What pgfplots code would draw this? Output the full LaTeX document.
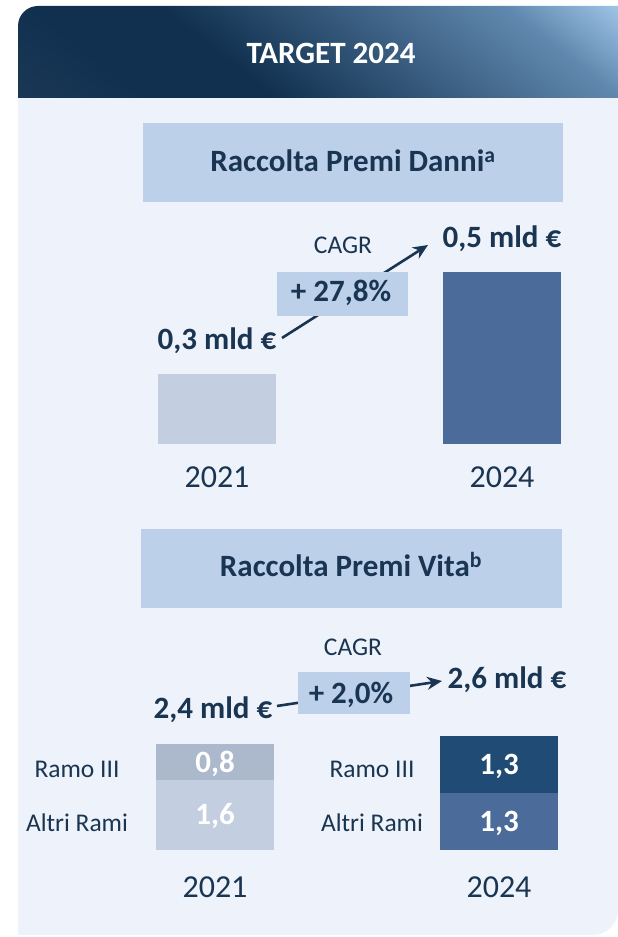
\documentclass[border=0pt]{standalone}
\usepackage{fontspec}
\setmainfont{Carlito}
\usepackage{pgfplots}
\pgfplotsset{compat=1.18}
\usetikzlibrary{arrows.meta}

\definecolor{navy}{HTML}{1A3552}
\definecolor{panelbg}{HTML}{EEF2FA}
\definecolor{boxblue}{HTML}{BDD0EA}
\definecolor{barlight}{HTML}{C3CEE1}
\definecolor{bargrey}{HTML}{ACB8CB}
\definecolor{barmid}{HTML}{4B6B9A}
\definecolor{bardark}{HTML}{1F4B75}
\definecolor{hA}{HTML}{1A3856}
\definecolor{hB}{HTML}{11304F}
\definecolor{hC}{HTML}{6088AE}
\definecolor{hD}{HTML}{9EC4E7}

% header gradient, the path box maps to 25bp..75bp
\pgfdeclarehorizontalshading{hdr}{100bp}{color(0bp)=(hA); color(25bp)=(hA); color(34bp)=(hB); color(43bp)=(hB); color(67bp)=(hC); color(75bp)=(hD); color(100bp)=(hD)}

\newcommand\fL{\fontsize{31}{37}\selectfont}
\newcommand\fY{\fontsize{32}{38}\selectfont}
\newcommand\fM{\fontsize{25.5}{30}\selectfont}

\pgfplotsset{
  plain bars/.style={
    scale only axis, anchor=south west,
    axis line style={draw=none}, tick style={draw=none},
    ytick=\empty, xtick={0,1}, xticklabels={2021,2024},
    xmin=-0.25, xmax=1.25, bar width=118pt,
    /pgf/number format/assume math mode=true,
  },
}

\begin{document}
\begin{tikzpicture}[x=1pt,y=1pt]
\useasboundingbox (0,0) rectangle (618,937);
\fill[white] (0,0) rectangle (618,937);

% panel
\fill[panelbg] (18,2) -- (18,839) -- (618,839) -- (618,27)
  arc[start angle=0,end angle=-90,radius=25] -- cycle;

% header
\begin{scope}
  \clip (18,839) -- (18,911) arc[start angle=180,end angle=90,radius=20]
    -- (618,931) -- (618,839) -- cycle;
  \shade[shading=hdr, transform canvas={rotate around={52:(18,839)}}]
    (18,239) rectangle (460,1439);
\end{scope}
\node[anchor=base, inner sep=0, text=white, font=\fL\bfseries] at (331,873) {TARGET 2024};

% ---- Raccolta Premi Danni ----
\fill[boxblue] (143,735) rectangle (563,814);
\node[anchor=base, inner sep=0, text=navy, font=\fL\bfseries] at (353,765)
  {Raccolta Premi Danni\textsuperscript{a}};

\begin{axis}[
  plain bars,
  at={(145.75pt,493pt)},
  width=427.5pt, height=232pt,
  ymin=0.1627, ymax=0.6176,
  ybar, bar shift=0pt,
  xticklabel style={font=\fY, text=navy, anchor=base, inner sep=0, yshift=-39pt},
  nodes near coords={\pgfmathprintnumber[fixed,precision=1,use comma]{\pgfplotspointmeta}~mld~€},
  every node near coord/.append style={font=\fL\bfseries, text=navy, anchor=base, inner sep=0, yshift=24pt},
]
\addplot[fill=barlight, draw=none] coordinates {(0,0.3)};
\addplot[fill=barmid, draw=none] coordinates {(1,0.5)};
\end{axis}

\draw[navy, line width=2.6pt, -{Stealth[length=15pt,width=13pt]}] (282,599) -- (428,692);
\fill[boxblue] (277,621) rectangle (408,665);
\node[anchor=base, inner sep=0, text=navy, font=\fL\bfseries] at (341,635) {+ 27,8\%};
\node[anchor=base, inner sep=0, text=navy, font=\fM] at (343,683) {CAGR};

% ---- Raccolta Premi Vita ----
\fill[boxblue] (141,329) rectangle (562,408);
\node[anchor=base, inner sep=0, text=navy, font=\fL\bfseries] at (351,360)
  {Raccolta Premi Vita\textsuperscript{b}};

\begin{axis}[
  plain bars,
  at={(144pt,87pt)},
  width=426pt, height=123.2pt,
  ymin=0, ymax=2.8,
  ybar stacked,
  xticklabel style={font=\fY, text=navy, anchor=base, inner sep=0, yshift=-47pt},
  point meta=explicit symbolic,
  nodes near coords,
  every node near coord/.append style={font=\fL\bfseries, text=white, anchor=base, inner sep=0, yshift=-10pt},
]
% Altri Rami
\addplot[fill=barlight, draw=none] coordinates {(0,1.6) [1,6] (1,0) []};
\addplot[fill=barmid, draw=none] coordinates {(0,0) [] (1,1.3) [1,3]};
% Ramo III
\addplot[fill=bargrey, draw=none] coordinates {(0,0.8) [0,8] (1,0) []};
\addplot[fill=bardark, draw=none] coordinates {(0,0) [] (1,1.3) [1,3]};
\end{axis}

\node[anchor=base, inner sep=0, text=navy, font=\fM] at (77,159) {Ramo III};
\node[anchor=base, inner sep=0, text=navy, font=\fM] at (77,105) {Altri Rami};
\node[anchor=base, inner sep=0, text=navy, font=\fM] at (372,159) {Ramo III};
\node[anchor=base, inner sep=0, text=navy, font=\fM] at (372,105) {Altri Rami};

\draw[navy, line width=2.6pt, -{Stealth[length=15pt,width=13pt]}] (277,231) -- (442,256);
\fill[boxblue] (298,223) rectangle (410,265);
\node[anchor=base, inner sep=0, text=navy, font=\fL\bfseries] at (351,233) {+ 2,0\%};
\node[anchor=base, inner sep=0, text=navy, font=\fM] at (353,281) {CAGR};
\node[anchor=base, inner sep=0, text=navy, font=\fL\bfseries] at (213,218) {2,4 mld €};
\node[anchor=base, inner sep=0, text=navy, font=\fL\bfseries] at (507,248) {2,6 mld €};

\end{tikzpicture}
\end{document}
